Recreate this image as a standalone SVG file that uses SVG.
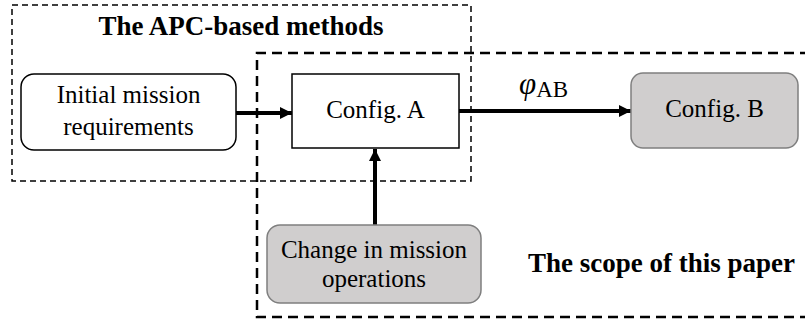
<svg xmlns="http://www.w3.org/2000/svg" width="805" height="322" viewBox="0 0 805 322">
  <defs>
    <marker id="arrow" viewBox="0 0 10 10" refX="10" refY="5" markerWidth="3" markerHeight="3" orient="auto" markerUnits="strokeWidth">
      <path d="M0,0 L10,5 L0,10 z" fill="#000"/>
    </marker>
    <style>
      .lbl { font-family: "Liberation Serif", "Times New Roman", serif; font-size: 25px; fill: #000; text-anchor: middle; }
      .title { font-family: "Liberation Serif", "Times New Roman", serif; font-weight: bold; fill: #000; }
      .white { fill: #fff; stroke: #000; stroke-width: 1.5; }
      .gray { fill: #d0cece; stroke: #7f7f7f; stroke-width: 1.5; }
      .conn { stroke: #000; stroke-width: 4; fill: none; marker-end: url(#arrow); }
    </style>
  </defs>
  <rect width="805" height="322" fill="#fff"/>

  <!-- region outlines -->
  <g id="apc-region">
    <rect x="12" y="5" width="459" height="176" fill="none" stroke="#000" stroke-width="1.5" stroke-dasharray="6,4"/>
    <text class="title" x="241" y="35" text-anchor="middle" font-size="27">The APC-based methods</text>
  </g>
  <g id="scope-region">
    <path d="M810,53 H257 V317 H810" fill="none" stroke="#000" stroke-width="2.5" stroke-dasharray="10,6"/>
    <text class="title" x="795" y="272" text-anchor="end" font-size="27">The scope of this paper</text>
  </g>

  <!-- connectors -->
  <g id="connectors">
    <line class="conn" x1="236" y1="113" x2="292" y2="113"/>
    <line class="conn" x1="459" y1="111" x2="631" y2="111"/>
    <line class="conn" x1="375" y1="225" x2="375" y2="149"/>
    <text x="519" y="94" font-family="Liberation Serif, serif" font-size="31" font-style="italic">φ<tspan font-size="23" font-style="normal" dy="3">AB</tspan></text>
  </g>

  <!-- nodes -->
  <g id="initial">
    <rect class="white" x="21" y="74" width="215" height="76" rx="13"/>
    <text class="lbl" x="128.5" y="103">Initial  mission</text>
    <text class="lbl" x="128.5" y="135">requirements</text>
  </g>
  <g id="configA">
    <rect class="white" x="292" y="74" width="167" height="74"/>
    <text class="lbl" x="375.5" y="118">Config. A</text>
  </g>
  <g id="configB">
    <rect class="gray" x="631" y="73" width="167" height="75" rx="12"/>
    <text class="lbl" x="714.5" y="117">Config. B</text>
  </g>
  <g id="change">
    <rect class="gray" x="267" y="225" width="214" height="78" rx="13"/>
    <text class="lbl" x="374" y="258" font-size="24">Change in mission</text>
    <text class="lbl" x="374" y="287" font-size="24">operations</text>
  </g>
</svg>
